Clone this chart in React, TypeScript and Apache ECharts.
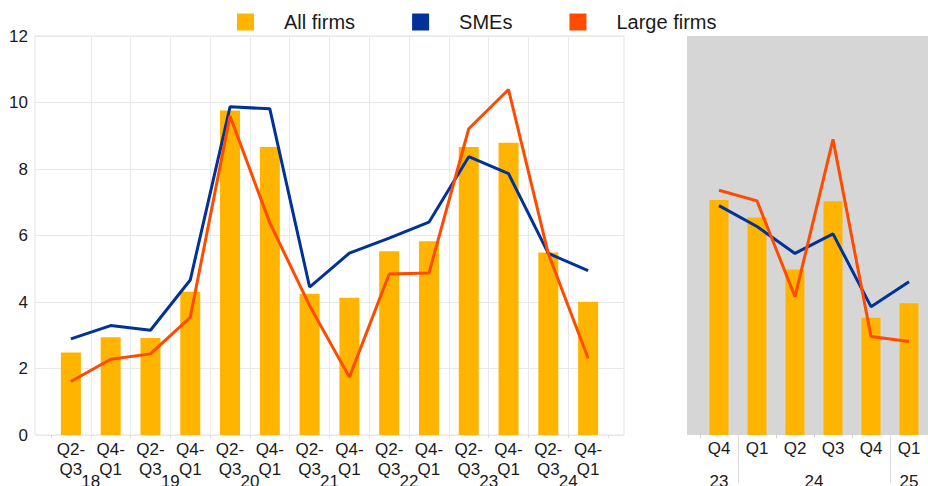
import React, { useEffect, useRef } from "react";
import * as echarts from "echarts";

// Left panel: half-year periods 2018–2024
const leftCategories = ["Q2-\nQ3", "Q4-\nQ1", "Q2-\nQ3", "Q4-\nQ1", "Q2-\nQ3", "Q4-\nQ1", "Q2-\nQ3", "Q4-\nQ1", "Q2-\nQ3", "Q4-\nQ1", "Q2-\nQ3", "Q4-\nQ1", "Q2-\nQ3", "Q4-\nQ1"];
const leftYears = ["18", "19", "20", "21", "22", "23", "24"];
const leftAllFirms = [2.48, 2.94, 2.92, 4.31, 9.76, 8.66, 4.25, 4.13, 5.53, 5.83, 8.66, 8.79, 5.49, 4.01];
const leftSMEs = [2.89, 3.29, 3.15, 4.66, 9.87, 9.81, 4.45, 5.47, 5.92, 6.40, 8.37, 7.86, 5.46, 4.94];
const leftLarge = [1.61, 2.28, 2.44, 3.54, 9.59, 6.38, 3.89, 1.74, 4.84, 4.87, 9.21, 10.39, 5.45, 2.31];

// Right panel: quarterly 2023 Q4 – 2025 Q1
const rightCategories = ["Q4", "Q1", "Q2", "Q3", "Q4", "Q1"];
const rightYearSlots = ["", "23", "", "", "", "", "24", "", "", "", "", "25", ""];
const rightAllFirms = [7.07, 6.54, 4.98, 7.03, 3.53, 3.96];
const rightSMEs = [6.90, 6.27, 5.46, 6.05, 3.86, 4.61];
const rightLarge = [7.36, 7.04, 4.16, 8.89, 2.96, 2.81];

const yTicks = { min: 0, max: 12, interval: 2 };

const COLOR_ALL = "#FFB400";
const COLOR_SME = "#003299";
const COLOR_LARGE = "#FF4B00";
const FONT = "'Liberation Sans', Arial, sans-serif";
const TEXT = "#1a1a1a";
const GRID_LINE = "#e9e9e9";

export default function App() {
  const ref = useRef<HTMLDivElement>(null);

  useEffect(() => {
    if (!ref.current) return;
    const chart = echarts.init(ref.current, undefined, { renderer: "svg" });

    const hiddenY = (gridIndex: number) => ({
      type: "value",
      gridIndex,
      min: yTicks.min,
      max: yTicks.max,
      interval: yTicks.interval,
      show: false,
    });

    const option: any = {
      animation: false,
      textStyle: { fontFamily: FONT },
      legend: {
        data: ["All firms", "SMEs", "Large firms"],
        left: 232,
        top: 7,
        icon: "rect",
        itemWidth: 17,
        itemHeight: 17,
        itemGap: 57,
        selectedMode: false,
        formatter: (name: string) => `{t|${name}}`,
        textStyle: {
          color: TEXT,
          fontSize: 20,
          fontFamily: FONT,
          rich: { t: { padding: [0, 0, 0, 25], fontSize: 20, color: TEXT, fontFamily: FONT } },
        },
      },
      grid: [
        { left: 35, top: 36, width: 589, height: 399, outerBoundsMode: "none", containLabel: false, show: true, borderColor: "#e3e3e3", borderWidth: 1, backgroundColor: "transparent" },
        { left: 51, top: 36, width: 557, height: 399, outerBoundsMode: "none", containLabel: false },
        { left: 687, top: 36, right: 0, height: 399, outerBoundsMode: "none", containLabel: false, show: true, backgroundColor: "#d6d6d6", borderWidth: 0 },
        { left: 700, top: 36, width: 228, height: 399, outerBoundsMode: "none", containLabel: false },
      ],
      xAxis: [
        { type: "category", gridIndex: 0, data: [""], show: false },
        {
          type: "category",
          gridIndex: 1,
          data: leftCategories,
          position: "bottom",
          axisLine: { show: false },
          axisTick: { show: true, length: 3, lineStyle: { color: "#dcdcdc" } },
          splitLine: { show: true, showMinLine: false, showMaxLine: false, lineStyle: { color: GRID_LINE, width: 1 } },
          axisLabel: { interval: 0, fontSize: 17, lineHeight: 20, color: TEXT, margin: 4, fontFamily: FONT },
        },
        {
          type: "category",
          gridIndex: 1,
          data: leftYears,
          position: "bottom",
          axisLine: { show: false },
          axisTick: { show: false },
          axisLabel: { interval: 0, fontSize: 17, color: TEXT, margin: 38, fontFamily: FONT },
        },
        { type: "category", gridIndex: 2, data: [""], show: false },
        {
          type: "category",
          gridIndex: 3,
          data: rightCategories,
          position: "bottom",
          axisLine: { show: false },
          axisTick: { show: true, length: 3, interval: 0, lineStyle: { color: "#d0d0d0" } },
          axisLabel: { interval: 0, fontSize: 17, color: TEXT, margin: 5, fontFamily: FONT },
        },
        {
          type: "category",
          gridIndex: 3,
          data: rightYearSlots,
          boundaryGap: false,
          position: "bottom",
          axisLine: { show: false },
          axisTick: {
            show: true,
            length: 48,
            interval: (i: number) => i === 2 || i === 10,
            lineStyle: { color: "#dcdcdc" },
          },
          axisLabel: { interval: 0, fontSize: 17, color: TEXT, margin: 38, fontFamily: FONT },
        },
      ],
      yAxis: [
        {
          type: "value",
          gridIndex: 0,
          min: yTicks.min,
          max: yTicks.max,
          interval: yTicks.interval,
          axisLine: { show: false },
          axisTick: { show: false },
          splitLine: { show: true, lineStyle: { color: GRID_LINE, width: 1 } },
          axisLabel: { fontSize: 17, color: TEXT, margin: 7, fontFamily: FONT },
        },
        hiddenY(1),
        hiddenY(2),
        hiddenY(3),
      ],
      series: [
        { name: "All firms", type: "bar", xAxisIndex: 1, yAxisIndex: 1, data: leftAllFirms, barWidth: 20, color: COLOR_ALL, itemStyle: { color: COLOR_ALL } },
        { name: "SMEs", type: "line", xAxisIndex: 1, yAxisIndex: 1, data: leftSMEs, color: COLOR_SME, symbol: "none", lineStyle: { width: 3, color: COLOR_SME } },
        { name: "Large firms", type: "line", xAxisIndex: 1, yAxisIndex: 1, data: leftLarge, color: COLOR_LARGE, symbol: "none", lineStyle: { width: 3, color: COLOR_LARGE } },
        { name: "All firms", type: "bar", xAxisIndex: 4, yAxisIndex: 3, data: rightAllFirms, barWidth: 19, color: COLOR_ALL, itemStyle: { color: COLOR_ALL } },
        { name: "SMEs", type: "line", xAxisIndex: 4, yAxisIndex: 3, data: rightSMEs, color: COLOR_SME, symbol: "none", lineStyle: { width: 3, color: COLOR_SME } },
        { name: "Large firms", type: "line", xAxisIndex: 4, yAxisIndex: 3, data: rightLarge, color: COLOR_LARGE, symbol: "none", lineStyle: { width: 3, color: COLOR_LARGE } },
      ],
    };

    chart.setOption(option);
    return () => chart.dispose();
  }, []);

  return (
    <div
      ref={ref}
      style={{ position: "fixed", left: 0, top: 0, width: 928, height: 486, background: "#ffffff" }}
    />
  );
}
